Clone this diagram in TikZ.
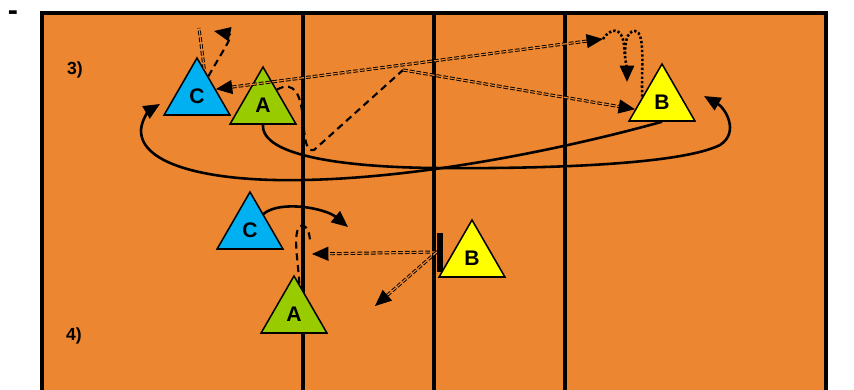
\documentclass[tikz,border=0pt]{standalone}
\usepackage{fontspec}
\setmainfont{Liberation Sans}
\usetikzlibrary{shapes.geometric,arrows.meta,positioning}

\definecolor{courtorange}{RGB}{236,134,48}
\definecolor{playerblue}{RGB}{0,176,240}
\definecolor{playergreen}{RGB}{153,204,0}
\definecolor{playeryellow}{RGB}{255,255,0}

\tikzset{
	player/.style={regular polygon, regular polygon sides=3, draw, line width=1.3pt,
		minimum size=2.28cm, inner sep=0pt, font=\fontsize{18}{20}\selectfont\bfseries},
	run/.style={line width=2.2pt},
	move/.style={line width=1.8pt, dash pattern=on 6pt off 4pt},
	pass/.style={line width=0.8pt, double=courtorange, double distance=1pt, dash pattern=on 4pt off 1.8pt},
	ball/.style={line width=2.2pt, dash pattern=on 2pt off 1.8pt},
	courtline/.style={line width=3pt},
	lbl/.style={font=\fontsize{15}{18}\selectfont\bfseries}
}

\begin{document}
\begin{tikzpicture}[x=0.03cm, y=-0.03cm, >={Triangle[length=14pt,width=12pt]}]
	\useasboundingbox (0,0) rectangle (854,390);
	
	\fill[courtorange] (42,13) rectangle (826,390);
	\draw[courtline] (42,390) -- (42,13) -- (826,13) -- (826,390);
	\foreach \x in {303,434,565}
		\draw[courtline] (\x,13) -- (\x,390);
	
	\node[font=\fontsize{26}{28}\selectfont\bfseries, inner sep=0pt, anchor=base] (dash) at (13,20) {-};
	\node[lbl] (row3) at (75,70) {3)};
	\node[lbl] (row4) at (74,336) {4)};
	
	\node[player, fill=playerblue] (C3) at (197,96) {C};
	\node[player, fill=playergreen] (A3) at (263,105) {A};
	\node[player, fill=playeryellow] (B3) at (662,102) {B};
	\node[player, fill=playerblue] (C4) at (250,230) {C};
	\node[player, fill=playergreen] (A4) at (294,314) {A};
	\node[player, fill=playeryellow] (B4) at (472,258) {B};
	\node[fill=black, minimum width=0.18cm, minimum height=1.17cm, inner sep=0pt] (blk) at (440,252) {};
	
	\coordinate (kA) at (314,150);
	\coordinate (kP) at (403,70);
	\coordinate (rA) at (704,96);
	\coordinate (rB) at (160,104);
	\coordinate (cT) at (199,28);
	\coordinate (cE) at (214,31);
	\coordinate (pT) at (603,39);
	\coordinate (dB) at (627,82);
	\coordinate (mB) at (625,55);
	\coordinate (rC) at (348,227);
	\coordinate (lA) at (310,242);
	\coordinate (pA) at (312,254);
	\coordinate (pL) at (375,306);
	
	\draw[run, ->] (A3.side 2) .. controls (261,155) and (340,167) .. (434,168)
		.. controls (540,169) and (680,165) .. (720,145) .. controls (740,132) and (725,108) .. (rA);
	\draw[run, ->] (B3.side 2) .. controls (560,150) and (420,178) .. (303,180)
		.. controls (210,182) and (140,165) .. (141,130) .. controls (142,118) and (150,110) .. (rB);
	\draw[move] (A3.48) .. controls (295,80) and (301,95) .. (303,120)
		.. controls (305,140) and (306,152) .. (kA) -- (kP);
	\draw[pass, ->] (kP) -- (B3.195);
	\draw[pass, <->] (C3.20) -- (pT);
	\draw[ball, ->] (pT) .. controls (610,28) and (622,26) .. (624,45) .. controls (625,60) and (627,70) .. (dB);
	\draw[ball] (B3.165) .. controls (641,70) and (646,32) .. (635,31) .. controls (626,31) and (625,45) .. (mB);
	\draw[pass] (C3.75) -- (cT);
	\draw[move, ->] (C3.60) .. controls (222,52) and (234,35) .. (cE);
	
	\draw[run, ->] (C4.50) .. controls (280,200) and (325,208) .. (rC);
	\draw[move] (A4.80) .. controls (298,260) and (292,230) .. (301,226) .. controls (307,224) and (310,234) .. (lA);
	\draw[pass, ->] (blk.west) -- (pA);
	\draw[pass, ->] (blk.west) -- (pL);
\end{tikzpicture}
\end{document}
